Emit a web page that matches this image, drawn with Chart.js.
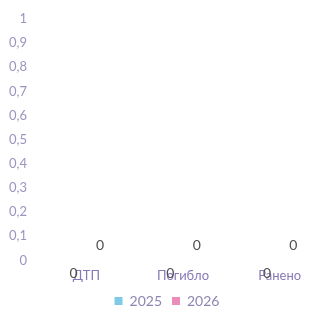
<!DOCTYPE html>
<html>
<head>
<meta charset="utf-8">
<script src="https://cdn.jsdelivr.net/npm/chart.js@4"></script>
<style>
  html, body { margin: 0; padding: 0; background: #fff; overflow: hidden; }
  #wrap { width: 350px; height: 318px; }
</style>
</head>
<body>
<div id="wrap"><canvas id="myChart"></canvas></div>
<script>
var categories = ['ДТП', 'Погибло', 'Ранено'];
var values2025 = [0, 0, 0];
var values2026 = [0, 0, 0];
var yTicks = [0, 0.1, 0.2, 0.3, 0.4, 0.5, 0.6, 0.7, 0.8, 0.9, 1];

// draw the "0" value labels (no datalabels plugin available)
var valueLabels = {
  id: 'valueLabels',
  afterDatasetsDraw: function(chart) {
    var ctx = chart.ctx;
    ctx.save();
    ctx.font = '14px Lato';
    ctx.fillStyle = '#505050';
    ctx.textAlign = 'center';
    ctx.textBaseline = 'middle';
    chart.data.datasets.forEach(function(ds, i) {
      var meta = chart.getDatasetMeta(i);
      meta.data.forEach(function(bar, j) {
        var dx = i == 0 ? 3 : -2;
        var dy = i == 0 ? 13 : -15;
        ctx.fillText(String(ds.data[j]), bar.x + dx, bar.y + dy);
      });
    });
    ctx.restore();
  }
};

var ctx = document.getElementById('myChart');
var chart = new Chart(ctx, {
  type: 'bar',
  data: {
    labels: categories,
    datasets: [{
      label: '2025',
      data: values2025,
      backgroundColor: '#7fcbe6'
    }, {
      label: '2026',
      data: values2026,
      backgroundColor: '#ec8cb8'
    }]
  },
  options: {
    responsive: true,
    maintainAspectRatio: false,
    animation: false,
    categoryPercentage: 0.65,
    barPercentage: 0.9,
    layout: { padding: { left: 6, right: 22, top: 19, bottom: 0 } },
    plugins: {
      legend: {
        position: 'bottom',
        labels: {
          boxWidth: 8,
          boxHeight: 8,
          padding: 10,
          color: '#8d86b3',
          font: { family: 'Lato', size: 14 }
        }
      },
      tooltip: { enabled: false }
    },
    scales: {
      x: {
        grid: { display: false },
        border: { display: false },
        ticks: {
          color: '#8878b8',
          font: { family: 'Lato', size: 13 },
          padding: 0
        }
      },
      y: {
        min: 0,
        max: 1,
        grid: { display: false },
        border: { display: false },
        afterBuildTicks: function(axis) {
          axis.ticks = yTicks.map(function(v) { return { value: v }; });
        },
        ticks: {
          color: '#9b94c0',
          font: { family: 'Lato', size: 13 },
          padding: 3,
          callback: function(v) { return String(v).replace('.', ','); }
        }
      }
    }
  },
  plugins: [valueLabels]
});
</script>
</body>
</html>
